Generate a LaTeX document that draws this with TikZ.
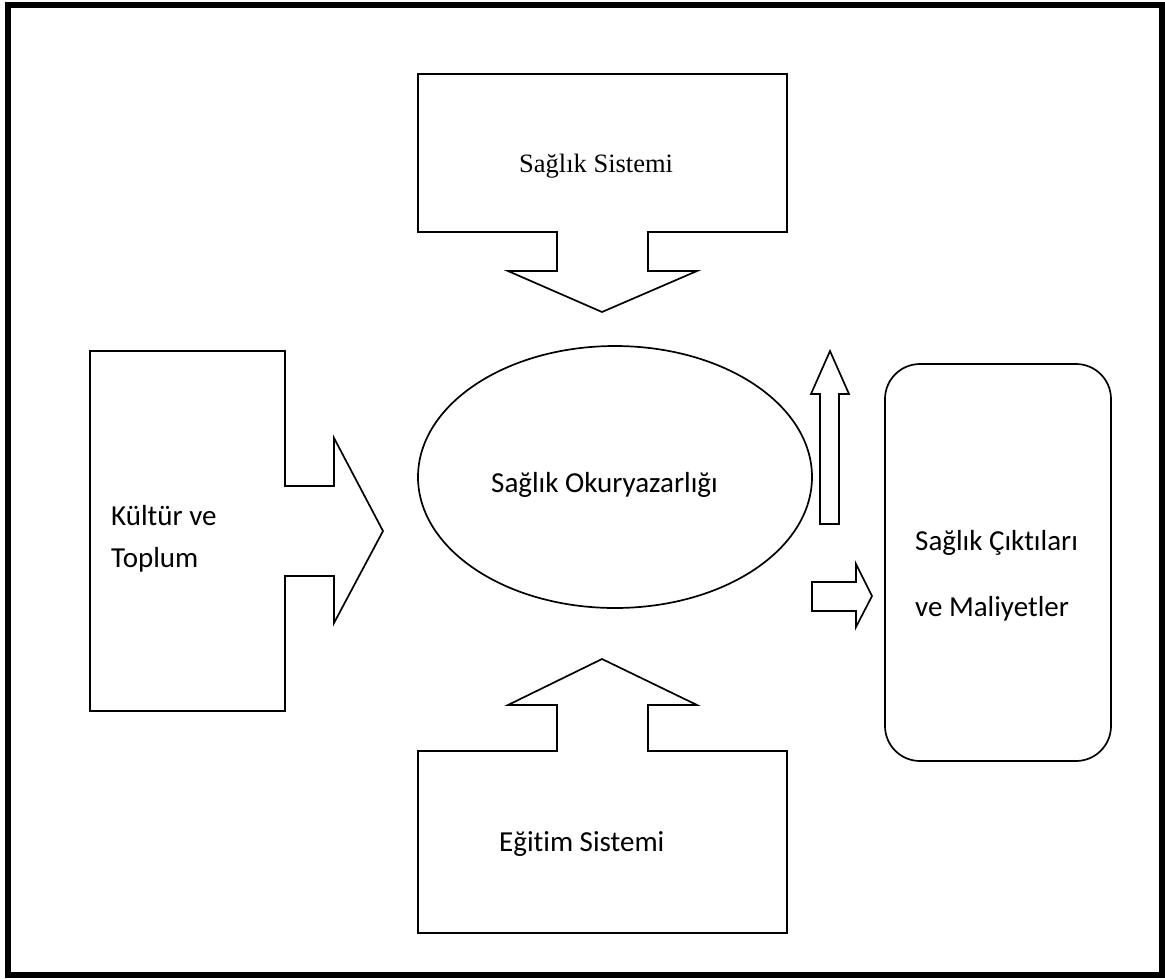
\documentclass[tikz,border=0pt]{standalone}
\usepackage{fontspec}
\setmainfont{Carlito}[Ligatures=NoCommon]
\newfontfamily\timesfont{Liberation Serif}
\usetikzlibrary{shapes.geometric}
\begin{document}
\begin{tikzpicture}[x=1pt,y=-1pt,
  shapeline/.style={draw=black,line width=1.7pt,line join=miter,fill=white},
  lbl/.style={anchor=base west,inner sep=0pt,font=\fontsize{29}{42}\selectfont},
  slbl/.style={anchor=base west,inner sep=0pt,font=\timesfont\fontsize{26.5}{32}\selectfont},
  frame/.style={draw=black,line width=6pt}]
\useasboundingbox (0,0) rectangle (1165,978);
\draw[frame] (8,5) rectangle (1162,975);
% top callout: Saglik Sistemi
\draw[shapeline] (418,74) -- (787,74) -- (787,232) -- (648,232) -- (648,271) -- (697,271)
  -- (602,312) -- (508,271) -- (557,271) -- (557,232) -- (418,232) -- cycle;
\node[slbl] (saglik) at (519,172) {Sağlık Sistemi};
% left callout: Kultur ve Toplum
\draw[shapeline] (90,351) -- (285,351) -- (285,486) -- (334,486) -- (334,438) -- (383,531)
  -- (334,623) -- (334,576) -- (285,576) -- (285,711) -- (90,711) -- cycle;
\node[lbl] (kultur1) at (111,525) {Kültür ve};
\node[lbl] (kultur2) at (111,567) {Toplum};
% bottom callout: Egitim Sistemi
\draw[shapeline] (418,933) -- (787,933) -- (787,751) -- (648,751) -- (648,705) -- (697,705)
  -- (602,659) -- (508,705) -- (557,705) -- (557,751) -- (418,751) -- cycle;
\node[lbl] (egitim) at (499,851) {Eğitim Sistemi};
% ellipse
\node[shapeline,ellipse,minimum width=394pt,minimum height=262pt,inner sep=0pt] (oky) at (615,477) {};
\node[lbl] (okytxt) at (491,492) {Sağlık Okuryazarlığı};
% up arrow
\draw[shapeline] (820,524) -- (839,524) -- (839,394) -- (849,394) -- (830,351) -- (811,394) -- (820,394) -- cycle;
% right arrow
\draw[shapeline] (812,582) -- (856,582) -- (856,564) -- (872,596) -- (856,627) -- (856,611) -- (812,611) -- cycle;
% rounded rectangle
\draw[shapeline,rounded corners=35pt] (885,364) rectangle (1111,761);
\node[lbl] (cikti1) at (915,550) {Sağlık Çıktıları};
\node[lbl] (cikti2) at (915,616) {ve Maliyetler};
\end{tikzpicture}
\end{document}
